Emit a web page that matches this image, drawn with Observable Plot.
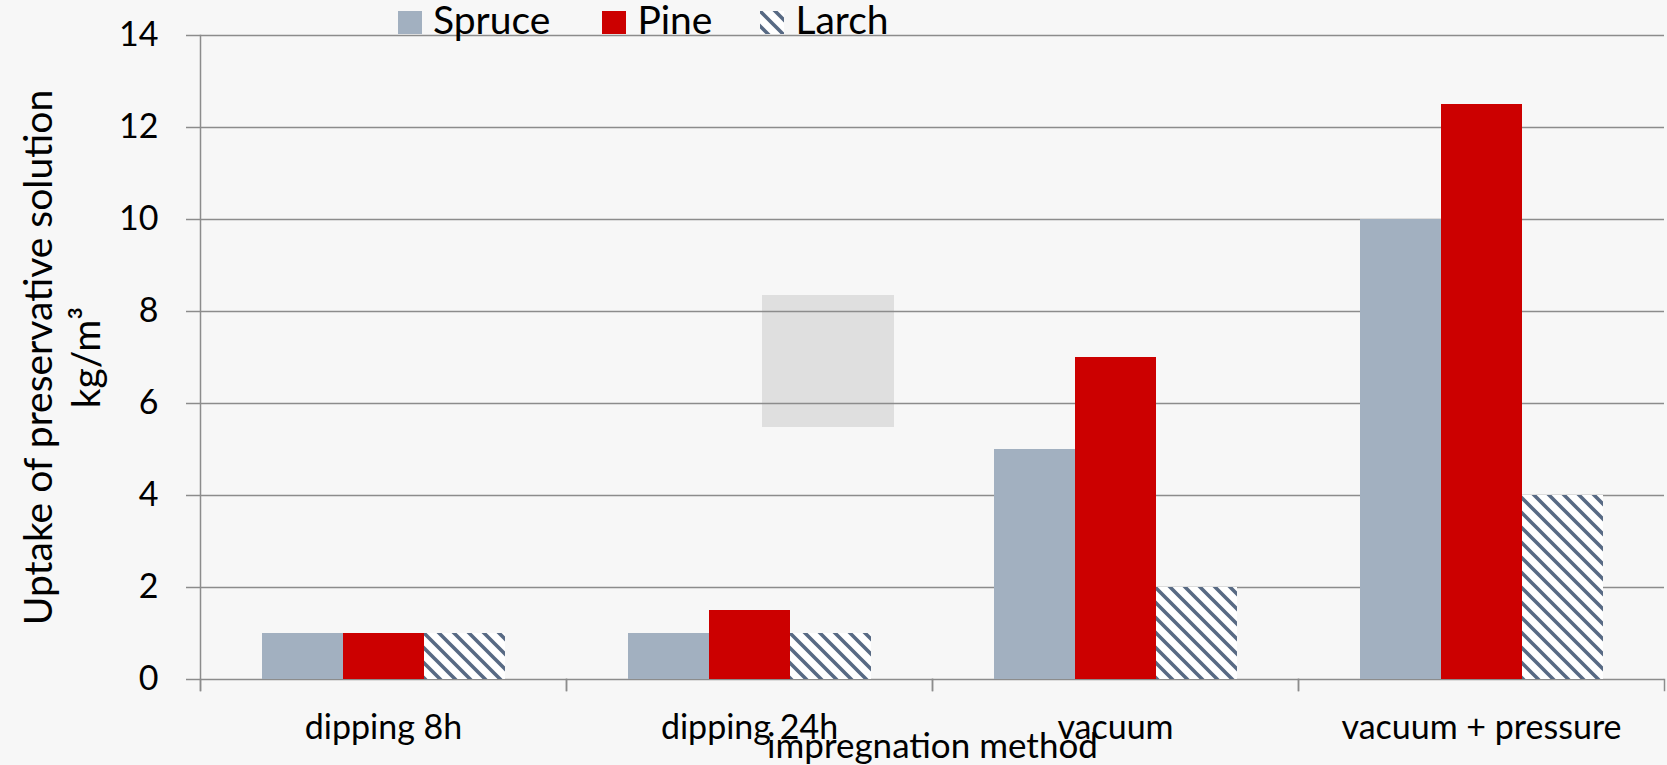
<!DOCTYPE html>
<html><head><meta charset="utf-8">
<script src="https://cdn.jsdelivr.net/npm/d3@7"></script>
<script src="https://cdn.jsdelivr.net/npm/@observablehq/plot@0.6"></script>
<style>
html,body{margin:0;padding:0;background:#f7f7f7;}
body{width:1667px;height:765px;position:relative;overflow:hidden;font-family:Lato,sans-serif;}
#chart{position:absolute;left:0;top:0;z-index:1;}
#chart svg{display:block;}
#wm{position:absolute;left:762px;top:295px;width:132px;height:132px;background:#dfdfdf;z-index:0;}
#legend{position:absolute;top:0;left:398px;z-index:2;display:flex;font-size:39px;line-height:39px;color:#000;white-space:nowrap;}
#legend .item{display:flex;align-items:baseline;}
#legend .sw{display:inline-block;width:24px;height:23px;margin-right:11px;}
</style>
</head><body>
<svg width="0" height="0" style="position:absolute">
  <defs>
    <pattern id="larchHatch" patternUnits="userSpaceOnUse" width="15" height="15">
      <rect width="15" height="15" fill="#ffffff"/>
      <path d="M-3,-3 L18,18 M-3,12 L3,18 M12,-3 L18,3" stroke="#586a84" stroke-width="3.6"/>
    </pattern>
  </defs>
</svg>
<div id="wm"></div>
<div id="legend"></div>
<div id="chart"></div>
<script>
const categories = ["dipping 8h", "dipping 24h", "vacuum", "vacuum + pressure"];
const species = ["Spruce", "Pine", "Larch"];
const spruce = [1, 1, 5, 10];
const pine = [1, 1.5, 7, 12.5];
const larch = [1, 1, 2, 4];
const yTicks = [0, 2, 4, 6, 8, 10, 12, 14];
const xTitle = "impregnation method";
const yTitle = "Uptake of preservative solution\nkg/m\u00B3";
const colors = ["#a2b0c0", "#cc0000", "url(#larchHatch)"];

const seriesValues = [spruce, pine, larch];
const rows = [];
categories.forEach((c, i) => {
  species.forEach((s, j) => rows.push({method: c, species: s, value: seriesValues[j][i]}));
});

const W = 1667, H = 765, mL = 199, mR = 3, mT = 35, mB = 86, tickLen = 11;
const gridColor = "#8c8c8c";

const chart = Plot.plot({
  width: W, height: H,
  marginLeft: mL, marginRight: mR, marginTop: mT, marginBottom: mB,
  style: {background: "transparent", fontFamily: "Lato, sans-serif", color: "#000", overflow: "visible"},
  fx: {domain: categories, padding: 0},
  x: {domain: species, paddingInner: 0, paddingOuter: 0.75, axis: null},
  y: {domain: [0, 14]},
  color: {domain: species, range: colors},
  marks: [
    Plot.gridY(yTicks, {stroke: gridColor, strokeOpacity: 1, strokeWidth: 1.5}),
    Plot.frame({anchor: "left", facetAnchor: "left", stroke: gridColor, strokeOpacity: 1, strokeWidth: 1.5, insetBottom: -tickLen}),
    Plot.frame({anchor: "left", stroke: gridColor, strokeOpacity: 1, strokeWidth: 1.5, insetTop: H - mT - mB, insetBottom: -tickLen}),
    Plot.frame({anchor: "right", stroke: gridColor, strokeOpacity: 1, strokeWidth: 1.5, insetTop: H - mT - mB, insetBottom: -tickLen}),
    Plot.barY(rows, {fx: "method", x: "species", y: "value", fill: "species"}),
    Plot.axisY(yTicks, {tickSize: 14, tickPadding: 28, fontSize: 34, stroke: gridColor, strokeWidth: 1.5, label: null}),
    Plot.axisFx({anchor: "bottom", tickSize: 0, tickPadding: 35, fontSize: 34, label: null}),
    Plot.text([yTitle], {text: d => d, frameAnchor: "left", textAnchor: "middle", facet: "super", rotate: -90, dx: -140, fontSize: 39, lineHeight: 1.23}),
    Plot.text([xTitle], {text: d => d, frameAnchor: "bottom", facet: "super", dy: 78, fontSize: 35})
  ]
});
document.getElementById("chart").appendChild(chart);

const legend = document.getElementById("legend");
const gaps = [0, 52, 48];
const svgNS = "http://www.w3.org/2000/svg";
species.forEach((s, j) => {
  const item = document.createElement("span");
  item.className = "item";
  item.style.marginLeft = gaps[j] + "px";
  const sw = document.createElement("span");
  sw.className = "sw";
  const svg = document.createElementNS(svgNS, "svg");
  svg.setAttribute("width", 24); svg.setAttribute("height", 23);
  svg.style.display = "block";
  const r = document.createElementNS(svgNS, "rect");
  r.setAttribute("width", 24); r.setAttribute("height", 23);
  r.setAttribute("fill", colors[j]);
  svg.appendChild(r);
  sw.appendChild(svg);
  item.appendChild(sw);
  item.appendChild(document.createTextNode(s));
  legend.appendChild(item);
});
</script>
</body></html>
